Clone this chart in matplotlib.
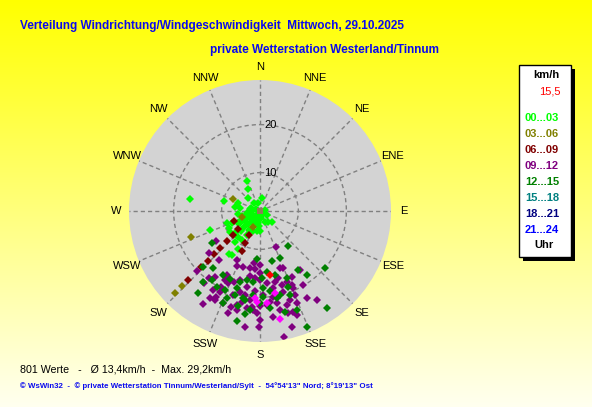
import matplotlib.pyplot as plt
import numpy as np
from matplotlib.patches import Rectangle

plt.rcParams['font.family'] = ['Liberation Sans', 'DejaVu Sans']

# Wind direction (deg, clockwise from N) and speed (km/h), per time-of-day class
dir_00_03 = [337, 330, 286, 291, 317, 326, 348, 8, 278, 280,
             280, 260, 244, 210, 244, 244, 240, 247, 250, 241,
             235, 228, 220, 212, 219, 212, 188, 190, 180, 155,
             142, 131, 121, 79, 249, 280, 210, 216, 213,
             235, 225, 257, 270, 236, 197, 223, 203, 255, 214,
             288, 297, 225, 210, 239, 199, 172, 184, 243, 215,
             224, 208, 135, 262]
spd_00_03 = [8.9, 7.2, 9.9, 6.8, 5.6, 4.1, 3.8, 4.7, 6.2, 7.3,
             4.1, 4.8, 3.9, 3.4, 5.5, 6.3, 7.2, 8.4, 9.4, 9.5,
             9.6, 9.0, 9.0, 9.1, 10.3, 4.6, 4.6, 6.2, 6.1, 4.5,
             4.8, 5.4, 3.6, 3.1, 13.2, 16.8, 11.1, 13.1, 12.9,
             4.5, 3.5, 4.8, 3.7, 5.8, 4.2, 5.7, 5.2, 5.9, 2.8,
             4.0, 2.9, 6.7, 6.6, 6.9, 6.4, 3.5, 5.1, 5.3, 4.5,
             7.8, 7.7, 2.9, 6.6]

dir_03_06 = [294, 253, 203, 249, 226, 226]
spd_03_06 = [8.1, 6.0, 5.6, 17.3, 24.6, 26.6]

dir_06_09 = [249, 230, 205, 228, 227.5, 205, 227, 226.5, 204.6, 226.3, 226.6, 226.1]
spd_06_09 = [7.7, 7.9, 7.5, 9.5, 11.3, 9.3, 13.4, 15.1, 11.2, 17.1, 19.0, 22.7]

dir_09_12 = [230, 220, 226.5, 217, 214, 202.5, 205, 197, 190, 185,
             186, 180, 180, 189, 196, 200, 207.5, 204, 207, 206,
             207, 211, 218, 211.6, 207, 202, 197, 194, 197.6, 194,
             190, 190, 184.2, 180, 174.7, 170.2, 168, 160.8, 158, 164.8,
             163.7, 159.3, 145.9, 154.3, 156.8, 163.9, 171.2, 177.8, 183.5, 186.4,
             185, 183.9, 180, 175.9, 173.7, 169.7, 156.7, 157.4, 161.4, 164.1,
             158.3, 149.7, 147.5, 151.9, 161.7, 160.6, 164.5, 168.6, 173.1, 180,
             181.8, 187.4, 180.3, 164.7, 169.1, 156.3, 206.9, 209.8, 187.8, 191.4,
             193.2, 197.2, 236]
spd_09_12 = [15.75, 15.4, 20.2, 19.5, 18.6, 14.3, 13.3, 14.1, 14.1, 14.1,
             13.0, 13.25, 15.0, 15.8, 17.0, 17.7, 17.0, 18.5, 19.7, 20.8,
             22.0, 21.1, 21.1, 24.8, 22.8, 22.7, 22.9, 22.2, 20.4, 19.3,
             19.8, 18.0, 16.1, 16.4, 17.1, 18.3, 17.1, 14.6, 14.9, 16.5,
             18.1, 17.75, 16.9, 17.2, 18.8, 19.5, 20.1, 19.5, 18.8, 20.7,
             22.0, 22.7, 21.9, 21.6, 21.0, 21.5, 19.5, 21.0, 21.6, 22.4,
             22.7, 19.9, 24.0, 22.6, 24.1, 25.0, 24.1, 23.0, 24.2, 24.7,
             23.3, 26.3, 26.1, 27.0, 28.7, 10.1, 18.1, 23.0, 22.5, 21.3,
             23.2, 24.3, 13.1]

dir_12_15 = [184, 166.8, 140.8, 225.5, 218.5, 215, 216.9, 219.2, 209.8, 204,
             195.8, 190.9, 185.4, 178.6, 173.7, 166.8, 157.1, 158.4, 147, 143.9,
             131.4, 159.5, 160.3, 166.6, 172.9, 177.8, 184.6, 190.8, 196.6, 200.9,
             201.7, 203.9, 209.8, 192.8, 189.6, 180, 174.1, 166.1, 169.2, 159.7,
             158, 145.6, 191.6, 188.3, 185.8, 177.6, 196.8, 236.4]
spd_12_15 = [12.0, 12.7, 11.3, 18.6, 21.0, 19.5, 23.4, 17.4, 17.4, 17.4,
             17.3, 16.6, 16.8, 16.0, 14.7, 15.7, 12.7, 17.1, 16.6, 18.5,
             20.1, 18.8, 20.6, 20.0, 18.9, 19.9, 19.6, 20.5, 20.3, 21.5,
             22.7, 20.0, 20.2, 22.4, 20.8, 21.2, 22.4, 23.6, 20.5, 24.0,
             28.0, 26.6, 25.5, 23.7, 22.7, 18.1, 18.8, 13.9]

dir_peak = [169.7, 175.8, 182.1, 183.3, 169.5]
spd_peak = [19.4, 21.3, 20.9, 20.2, 24.9]

dir_now = 171.5
spd_now = 15.5

classes = ['00...03', '03...06', '06...09', '09...12', '12...15', '15...18', '18...21', '21...24']
class_colors = ['#00ff00', '#808000', '#800000', '#800080', '#008000', '#008080', '#000080', '#0000ff']
compass = ['N', 'NNE', 'NE', 'ENE', 'E', 'ESE', 'SE', 'SSE',
           'S', 'SSW', 'SW', 'WSW', 'W', 'WNW', 'NW', 'NNW']

title1 = 'Verteilung Windrichtung/Windgeschwindigkeit  Mittwoch, 29.10.2025'
title2 = 'private Wetterstation Westerland/Tinnum'
stats = '801 Werte   -   \u00d8 13,4km/h  -  Max. 29,2km/h'
footer = '\u00a9 WsWin32  -  \u00a9 private Wetterstation Tinnum/Westerland/Sylt  -  54\u00b054\'13" Nord; 8\u00b019\'13" Ost'

fig = plt.figure(figsize=(5.92, 4.07), dpi=100)

# yellow -> pale background, pixel coordinates for layout
bg = fig.add_axes([0, 0, 1, 1])
g = np.linspace(0, 0.94, 256)
img = np.ones((256, 1, 3))
img[:, 0, 2] = g
bg.imshow(img, aspect='auto', extent=[0, 592, 407, 0], interpolation='bilinear')
bg.set_xlim(0, 592)
bg.set_ylim(407, 0)
bg.axis('off')

bg.text(20, 29.5, title1, color='#0a0aee', fontsize=8.45, fontweight='bold', va='baseline')
bg.text(210, 53.5, title2, color='#0a0aee', fontsize=8.5, fontweight='bold', va='baseline')
bg.text(20, 373, stats, color='black', fontsize=7.7, va='baseline')
bg.text(20, 388.5, footer, color='#0a0aee', fontsize=5.7, fontweight='bold', va='baseline')

# legend box with shadow
bg.add_patch(Rectangle((523, 69), 52, 192, facecolor='black', edgecolor='none'))
bg.add_patch(Rectangle((519, 65), 52, 192, facecolor='white', edgecolor='black', lw=1))
bg.text(546, 75.5, 'km/h', fontsize=8, fontweight='bold', ha='center', va='center')
bg.text(550, 92, '15,5', fontsize=8, color='red', ha='center', va='center')
for i, (lab, c) in enumerate(zip(classes, class_colors)):
    bg.text(542, 118 + i * 16, lab, fontsize=8, fontweight='bold', color=c,
            ha='center', va='center')
bg.text(544, 245.5, 'Uhr', fontsize=8, fontweight='bold', ha='center', va='center')

# polar plot
ax = fig.add_axes([129 / 592, 65 / 407, 262 / 592, 262 / 407], projection='polar')
ax.set_theta_zero_location('N')
ax.set_theta_direction(-1)
ax.set_facecolor('#d3d3d3')
ax.spines['polar'].set_visible(False)
ax.set_ylim(2, 29.3)
ax.set_thetagrids(np.arange(0, 360, 22.5), labels=[])
ax.set_rgrids([10, 20], labels=[])
ax.grid(True, color='#808080', linestyle=(0, (3, 2.2)), linewidth=1)
ax.tick_params(length=0)

for lab in [10, 20]:
    ax.annotate(str(lab), xy=(0, lab), xytext=(3, 0), textcoords='offset points',
                ha='left', va='center', fontsize=8)
for i, lab in enumerate(compass):
    ax.text(np.radians(i * 22.5), 32, lab, ha='center', va='center', fontsize=8)

series = [(dir_00_03, spd_00_03), (dir_03_06, spd_03_06), (dir_06_09, spd_06_09),
          (dir_09_12, spd_09_12), (dir_12_15, spd_12_15)]
for (d, s), c in zip(series, class_colors):
    ax.plot(np.radians(d), s, 'D', color=c, ms=3.7, mew=0, ls='none')

# calm marker in the centre
ax.plot([0], [2], 's', color='#8c7d58', ms=4, mew=0)
ax.plot(np.radians(dir_peak), spd_peak, 'D', color='#ff00ff', ms=3.7, mew=0, ls='none')
ax.plot(np.radians(dir_now), spd_now, 'D', color='#ff0000', ms=3.7, mew=0, ls='none')

fig.savefig('out.png', dpi=100)
